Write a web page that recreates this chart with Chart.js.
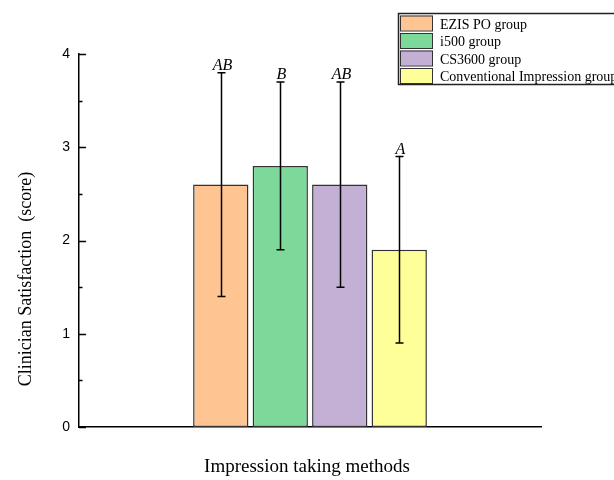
<!DOCTYPE html>
<html>
<head>
<meta charset="utf-8">
<script src="https://cdn.jsdelivr.net/npm/chart.js@4"></script>
<style>
  body { margin: 0; background: #fff; }
  #wrap { width: 614px; height: 480px; }
</style>
</head>
<body>
<div id="wrap"><canvas id="barChart"></canvas></div>
<script>
// data
const groups = ['EZIS PO group', 'i500 group', 'CS3600 group', 'Conventional Impression group']
const means = [2.6, 2.8, 2.6, 1.9]
const sds = [1.2, 0.9, 1.1, 1.0]
const letters = ['AB', 'B', 'AB', 'A']
const colors = ['#FEC593', '#7DD999', '#C5B0D5', '#FFFF99']
const yTicks = [0, 1, 2, 3, 4]
const xTitle = 'Impression taking methods'
const yTitle = 'Clinician Satisfaction  (score)'

const serif = '"Liberation Serif", "Times New Roman", serif'

// error bars + letters on top
const errorBars = {
    id: 'errorBars',
    afterDatasetsDraw(chart) {
        let ctx = chart.ctx
        let y = chart.scales.y
        ctx.save()
        ctx.strokeStyle = '#000'
        ctx.lineWidth = 1.5
        chart.data.datasets.forEach((ds, i) => {
            let bar = chart.getDatasetMeta(i).data[0]
            let x = Math.round(bar.x) + 0.5
            let top = y.getPixelForValue(means[i] + sds[i])
            let bot = y.getPixelForValue(means[i] - sds[i])
            ctx.beginPath()
            ctx.moveTo(x, top); ctx.lineTo(x, bot)
            ctx.moveTo(x - 4, top); ctx.lineTo(x + 4, top)
            ctx.moveTo(x - 4, bot); ctx.lineTo(x + 4, bot)
            ctx.stroke()
            ctx.fillStyle = '#000'
            ctx.font = 'italic 16px ' + serif
            ctx.textAlign = 'center'
            ctx.textBaseline = 'alphabetic'
            ctx.fillText(letters[i], x + 1, top - 3)
        })
        ctx.restore()
    }
}

// inward ticks, axis titles, boxed legend
const extras = {
    id: 'extras',
    afterDraw(chart) {
        let ctx = chart.ctx
        let y = chart.scales.y
        let area = chart.chartArea
        ctx.save()
        ctx.strokeStyle = '#000'
        ctx.lineWidth = 1.5
        ctx.beginPath()
        for (let v = 0; v <= 4; v += 0.5) {
            let py = Math.round(y.getPixelForValue(v)) + 0.5
            let len = Number.isInteger(v) ? 7 : 3.5
            ctx.moveTo(area.left, py); ctx.lineTo(area.left + len, py)
        }
        ctx.stroke()

        ctx.fillStyle = '#000'
        ctx.font = '19px ' + serif
        ctx.textAlign = 'center'
        ctx.textBaseline = 'alphabetic'
        ctx.fillText(xTitle, 307, 472)

        ctx.save()
        ctx.translate(31, 279)
        ctx.rotate(-Math.PI / 2)
        ctx.font = '18px ' + serif
        ctx.fillText(yTitle, 0, 0)
        ctx.restore()

        // legend
        ctx.lineWidth = 1.5
        ctx.strokeStyle = '#222'
        ctx.strokeRect(398.5, 13.5, 240, 71)
        ctx.font = '14px ' + serif
        ctx.textAlign = 'left'
        groups.forEach((g, i) => {
            let ty = 15.5 + i * 17.5
            ctx.fillStyle = colors[i]
            ctx.fillRect(400, ty, 33, 15)
            ctx.strokeStyle = '#333'
            ctx.lineWidth = 1
            ctx.strokeRect(400.5, ty + 0.5, 32, 15)
            ctx.fillStyle = '#000'
            ctx.fillText(g, 440, ty + 13)
        })
        ctx.restore()
    }
}

let chartobj = document.getElementById('barChart')
let barChart = new Chart(chartobj, {
    type: 'bar',
    data: {
        labels: [''],
        datasets: groups.map((g, i) => ({
            label: g,
            data: [means[i]],
            backgroundColor: colors[i],
            borderColor: '#333',
            borderWidth: 1.5,
            borderSkipped: false,
            categoryPercentage: 0.515,
            barPercentage: 0.93
        }))
    },
    options: {
        responsive: true,
        maintainAspectRatio: false,
        animation: false,
        layout: { padding: { top: 54, right: 73, left: 0, bottom: 0 } },
        plugins: {
            legend: { display: false },
            tooltip: { enabled: false }
        },
        scales: {
            x: {
                ticks: { display: false },
                grid: { display: false, drawTicks: false },
                border: { display: true, color: '#000', width: 1.5 },
                afterFit(scale) { scale.height = 53 }
            },
            y: {
                min: 0,
                max: 4,
                afterBuildTicks(scale) { scale.ticks = yTicks.map(v => ({ value: v })) },
                ticks: {
                    color: '#000',
                    padding: 9,
                    font: { family: '"Liberation Sans", Arial, sans-serif', size: 14 }
                },
                grid: { display: false, drawTicks: false },
                border: { display: true, color: '#000', width: 1.5 },
                afterFit(scale) { scale.width = 79 }
            }
        }
    },
    plugins: [errorBars, extras]
});
</script>
</body>
</html>
